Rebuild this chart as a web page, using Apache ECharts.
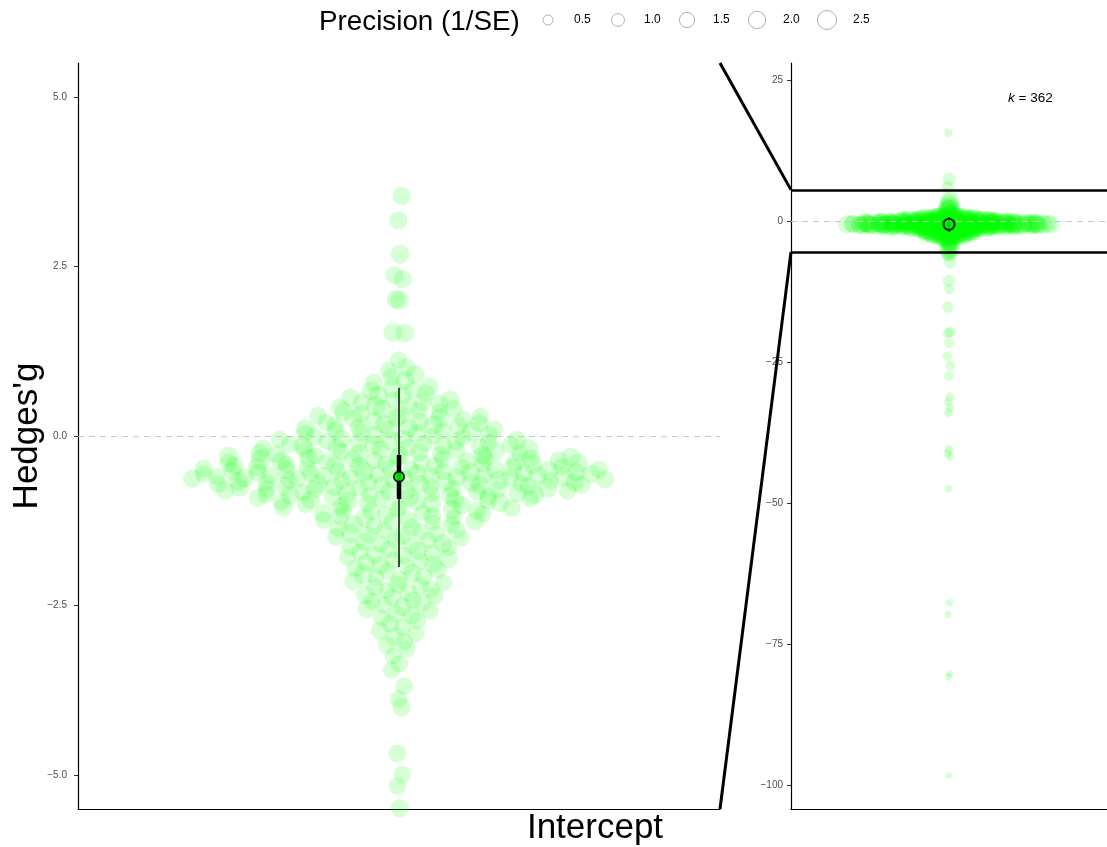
<!DOCTYPE html>
<html><head><meta charset="utf-8">
<script src="https://cdn.jsdelivr.net/npm/echarts@6/dist/echarts.min.js"></script>
<style>html,body{margin:0;padding:0;background:#fff}#c{width:1107px;height:847px}</style>
</head><body><div id="c"></div>
<script>
// ---------------- DATA ----------------
const gTop = [3.54, 3.18, 2.68, 2.37, 2.31, 2.02, 2.00, 1.53, 1.52];
const pTop = [2.4, 2.3, 2.5, 2.2, 2.3, 2.4, 2.5, 2.6, 2.4];

const gUpper = [1.12, 1.01, 0.97, 0.91, 0.87, 0.82, 0.79, 0.73, 0.71, 0.68,
  0.67, 0.63, 0.60, 0.59, 0.57, 0.53, 0.53, 0.50, 0.49, 0.48,
  0.45, 0.44, 0.42, 0.40, 0.39, 0.37, 0.36, 0.35, 0.33, 0.31,
  0.30, 0.29, 0.27, 0.26, 0.26, 0.24, 0.22, 0.21, 0.20, 0.19,
  0.18, 0.16, 0.16, 0.15, 0.13, 0.12, 0.11, 0.10, 0.09, 0.08,
  0.08, 0.06, 0.05, 0.04, 0.04, 0.02, 0.01, 0.00];
const pUpper = [2.1, 2.3, 2.0, 2.4, 2.2, 2.5, 2.1, 2.3, 2.7, 2.0,
  2.4, 2.2, 2.6, 2.1, 2.3, 1.9, 2.5, 2.2, 2.4, 2.1,
  2.7, 2.0, 2.3, 2.2, 2.5, 2.1, 2.4, 1.9, 2.3, 2.6,
  2.2, 2.0, 2.4, 2.3, 2.8, 2.1, 2.2, 2.5, 2.0, 2.3,
  2.4, 2.1, 2.6, 2.2, 1.9, 2.3, 2.5, 2.1, 2.4, 2.2,
  2.0, 2.7, 2.3, 2.1, 2.4, 2.2, 2.5, 2.0];

const gCore = [-0.01, -0.02, -0.04, -0.04, -0.05, -0.06, -0.07, -0.08, -0.08, -0.09, -0.10,
  -0.11, -0.12, -0.13, -0.13, -0.14, -0.15, -0.16, -0.17, -0.17, -0.18, -0.19, -0.20,
  -0.21, -0.21, -0.22, -0.23, -0.24, -0.25, -0.25, -0.26, -0.27, -0.27, -0.28, -0.29, -0.29, -0.30,
  -0.31, -0.31, -0.32, -0.33, -0.33, -0.34, -0.34, -0.35, -0.36, -0.36, -0.37, -0.37, -0.38, -0.38, -0.39, -0.40, -0.40,
  -0.41, -0.41, -0.42, -0.42, -0.43, -0.44, -0.44, -0.45, -0.45, -0.46, -0.46, -0.47, -0.47, -0.48, -0.48, -0.49, -0.49, -0.50, -0.50,
  -0.51, -0.51, -0.52, -0.52, -0.53, -0.53, -0.54, -0.54, -0.55, -0.55, -0.56, -0.56, -0.56, -0.57, -0.57, -0.58, -0.58, -0.59, -0.59, -0.60, -0.60,
  -0.61, -0.61, -0.62, -0.62, -0.63, -0.63, -0.63, -0.64, -0.64, -0.65, -0.65, -0.66, -0.66, -0.67, -0.67, -0.68, -0.68, -0.69, -0.69, -0.70, -0.70,
  -0.71, -0.71, -0.72, -0.72, -0.73, -0.74, -0.74, -0.75, -0.75, -0.76, -0.77, -0.77, -0.78, -0.78, -0.79, -0.79, -0.80, -0.80,
  -0.81, -0.82, -0.82, -0.83, -0.84, -0.84, -0.85, -0.86, -0.86, -0.87, -0.88, -0.88, -0.89, -0.90, -0.90,
  -0.91, -0.92, -0.93, -0.93, -0.94, -0.95, -0.96, -0.97, -0.97, -0.98, -0.99, -1.00];
const pCore = [2.3,2.1,2.5,2.2,2.0,2.4,2.7,2.1,2.3,2.2,
  2.4,1.9,2.2,2.6,2.1,2.3,2.5,2.0,2.2,2.4,
  2.1,2.8,2.3,2.0,2.2,2.5,2.1,2.4,1.9,2.3,
  2.6,2.2,2.1,2.4,2.3,2.0,2.7,2.2,2.5,2.1,
  2.3,2.4,2.0,2.2,2.9,2.1,2.3,2.5,2.2,2.0,
  2.4,2.1,2.6,2.3,2.2,1.9,2.5,2.1,2.4,2.3,
  2.2,2.7,2.0,2.4,2.1,2.3,2.6,2.2,2.0,2.5,
  2.1,2.3,2.4,1.9,2.5,2.2,2.1,2.8,2.3,2.2,
  2.5,2.0,2.2,2.4,2.1,2.6,2.3,2.0,2.4,2.1,
  2.3,2.2,2.7,2.1,2.4,2.0,2.2,2.5,2.3,2.1,
  2.0,2.4,2.3,2.2,2.6,2.1,1.9,2.4,2.5,2.2,
  2.4,2.1,2.3,2.7,2.0,2.2,2.4,2.1,2.3,2.6,
  2.2,2.5,2.1,2.3,2.4,2.0,2.8,2.2,2.1,2.3,
  2.1,2.3,2.5,2.0,2.2,2.4,2.1,2.6,2.3,1.9,
  2.7,2.2,2.0,2.4,2.3,2.1,2.5,2.2,2.4,2.0,
  2.3,2.1,2.4,2.2,2.6,2.0,2.3,2.5,2.1,2.4];

const gLower = [-1.01, -1.02, -1.04, -1.05, -1.05, -1.06, -1.07, -1.08, -1.09, -1.10,
  -1.11, -1.13, -1.14, -1.15, -1.16, -1.18, -1.19, -1.20,
  -1.21, -1.23, -1.24, -1.26, -1.27, -1.28, -1.30,
  -1.31, -1.33, -1.35, -1.36, -1.38, -1.39,
  -1.41, -1.43, -1.44, -1.46, -1.47, -1.49,
  -1.51, -1.53, -1.54, -1.56, -1.58, -1.59,
  -1.62, -1.63, -1.65, -1.67, -1.69,
  -1.71, -1.73, -1.75, -1.76, -1.79,
  -1.81, -1.83, -1.84, -1.87, -1.89,
  -1.91, -1.92, -1.95, -1.97, -1.99,
  -2.02, -2.04, -2.07, -2.09, -2.12, -2.14, -2.16, -2.19,
  -2.21, -2.23, -2.26, -2.28, -2.31, -2.34, -2.36, -2.38,
  -2.42, -2.44, -2.46, -2.49, -2.52, -2.55, -2.58,
  -2.62, -2.64, -2.68, -2.72, -2.77, -2.82, -2.87,
  -2.92, -2.96, -3.03, -3.08, -3.14, -3.24, -3.36, -3.45];
const pLower = [2.1,2.3,2.0,2.4,1.9,2.2,2.1,2.5,2.0,2.3,
  2.2,1.9,2.6,2.1,2.0,2.3,2.2,1.8,2.4,2.1,
  2.0,2.3,2.2,1.9,2.5,2.1,2.0,2.4,2.2,2.3,
  1.9,2.1,2.6,2.0,2.2,2.3,2.1,1.9,2.4,2.0,
  2.2,2.5,2.1,2.0,2.3,1.9,2.2,2.4,2.1,2.0,
  2.3,2.1,1.9,2.5,2.2,2.0,2.3,2.1,2.4,1.9,
  2.1,2.2,2.0,2.3,2.6,2.1,1.9,2.2,2.3,2.0,
  2.4,2.0,2.2,2.1,1.9,2.3,2.5,2.0,2.2,2.1,
  2.0,2.3,2.1,2.4,2.2,1.9,2.1,2.3,2.0,2.2,
  2.1,1.9,2.2,2.0,2.3,2.1,2.2,2.0,1.9,2.1,
  2.0];

const gBottom = [-3.69, -3.88, -4.00, -4.68, -4.99, -5.16, -5.49];
const pBottom = [2.2, 2.1, 2.3, 2.2, 2.0, 2.1, 2.2];

const gOut = [15.6, 7.4, 6.0, -6.1, -7.3, -10.6, -12.1, -15.3, -19.7, -19.9, -21.7, -24.0, -25.7, -27.5,
  -31.2, -32.1, -33.2, -34.0, -40.5, -41.2, -41.8, -47.5, -67.7, -69.8, -80.3, -80.8, -98.3];
const pOut = [0.25, 1.0, 0.9, 0.9, 1.0, 0.85, 0.55, 0.7, 0.6, 0.6, 0.45, 0.45, 0.45, 0.4,
  0.35, 0.3, 0.3, 0.35, 0.3, 0.25, 0.25, 0.15, 0.15, 0.1, 0.1, 0.1, 0.02];

// model estimate: mean, 95% CI, 95% PI
const estimate = { mean: -0.60, ciLow: -0.93, ciHigh: -0.28, piLow: -1.93, piHigh: 0.71 };
const kLabel = 362;
const leftTicks = [-5, -2.5, 0, 2.5, 5];
const rightTicks = [-100, -75, -50, -25, 0, 25];
const legendBreaks = [0.5, 1.0, 1.5, 2.0, 2.5];
const zoomLimit = 5.5;

// ---------------- LAYOUT ----------------
const hedgesG = [].concat(gTop, gUpper, gCore, gLower, gBottom, gOut);
const precision = [].concat(pTop, pUpper, pCore, pLower, pBottom, pOut);
const n = hedgesG.length;

// quasirandom offsets (van der Corput by rank, scaled by kernel density), like ggbeeswarm
function vdc(k) { let v = 0, d = 1; while (k > 0) { d *= 2; v += (k % 2) / d; k = Math.floor(k / 2); } return v; }
const sorted = hedgesG.slice().sort((a, b) => a - b);
function quant(p) { const h = (n - 1) * p, lo = Math.floor(h); return sorted[lo] + (h - lo) * ((sorted[lo + 1] ?? sorted[lo]) - sorted[lo]); }
const mean = hedgesG.reduce((a, b) => a + b, 0) / n;
const sd = Math.sqrt(hedgesG.reduce((a, b) => a + (b - mean) * (b - mean), 0) / (n - 1));
const iqr = quant(0.75) - quant(0.25);
const bw = 0.9 * Math.min(sd, iqr / 1.34) * Math.pow(n, -0.2) * 0.5;
function dens(y) { let s = 0; for (const v of hedgesG) { const z = (y - v) / bw; s += Math.exp(-0.5 * z * z); } return s; }
let maxD = 0;
for (let y = -6; y <= 4; y += 0.005) maxD = Math.max(maxD, dens(y));
const order = hedgesG.map((v, i) => i).sort((a, b) => hedgesG[a] - hedgesG[b] || a - b);
const rank = new Array(n);
order.forEach((idx, r) => rank[idx] = r + 1);
const WIDTH = 0.4;
const pts = hedgesG.map((v, i) => [(vdc(rank[i]) - 0.5) * 2 * WIDTH * dens(v) / maxD, v, precision[i]]);

const sizeFn = p => Math.sqrt(34.75 + 130.5 * p);
const FONT = '"Liberation Sans", Arial, Helvetica, sans-serif';
const minus = s => s.replace('-', '\u2212');

function yAxisCfg(grid, min, max, ticks, fmt, margin) {
  return {
    gridIndex: grid, type: 'value', min: min, max: max,
    axisLine: { show: true, onZero: false, lineStyle: { color: '#000', width: 1.2 } },
    axisTick: { show: true, length: 4, customValues: ticks, lineStyle: { color: '#333', width: 1 } },
    axisLabel: { customValues: ticks, formatter: fmt, fontFamily: FONT, fontSize: 10, color: '#4d4d4d', margin: margin },
    splitLine: { show: false }
  };
}
function xAxisCfg(grid) {
  return {
    gridIndex: grid, type: 'value', min: -0.6, max: 0.6,
    axisLine: { show: true, onZero: false, lineStyle: { color: '#000', width: 1.2 } },
    axisTick: { show: false }, axisLabel: { show: false }, splitLine: { show: false }
  };
}
function panelSeries(ax) {
  const extraLines = ax === 1 ? [
    { yAxis: zoomLimit, lineStyle: { type: 'solid', color: '#000', width: 2.6 } },
    { yAxis: -zoomLimit, lineStyle: { type: 'solid', color: '#000', width: 2.6 } }
  ] : [];
  return [
    {
      type: 'scatter', xAxisIndex: ax, yAxisIndex: ax, data: pts, clip: true,
      symbolSize: v => sizeFn(v[2]),
      itemStyle: { color: 'rgba(0,255,0,0.2)', borderWidth: 0 },
      markLine: {
        silent: true, symbol: 'none', label: { show: false },
        lineStyle: { type: [6, 5], color: '#c8c8c8', width: 1 },
        data: [{ yAxis: 0 }].concat(extraLines)
      },
      z: 2
    },
    {
      type: 'line', xAxisIndex: ax, yAxisIndex: ax, symbol: 'none', silent: true,
      data: [[0, estimate.piLow], [0, estimate.piHigh]],
      lineStyle: { color: '#000', width: 1.4 }, z: 5
    },
    {
      type: 'line', xAxisIndex: ax, yAxisIndex: ax, symbol: 'none', silent: true,
      data: [[0, estimate.ciLow], [0, estimate.ciHigh]],
      lineStyle: { color: '#000', width: 4.5 }, z: 6
    },
    {
      type: 'scatter', xAxisIndex: ax, yAxisIndex: ax, data: [[0, estimate.mean]],
      symbolSize: ax === 1 ? 11 : 10, itemStyle: { color: '#00ff00', borderColor: '#000', borderWidth: 2.2 }, z: 7
    }
  ];
}

const chart = echarts.init(document.getElementById('c'), null, { renderer: 'canvas' });
chart.setOption({
  animation: false,
  backgroundColor: '#fff',
  grid: [
    { left: 78, top: 63, width: 642, height: 746 },
    { left: 791, top: 63, width: 322, height: 746 }
  ],
  xAxis: [xAxisCfg(0), xAxisCfg(1)],
  yAxis: [
    yAxisCfg(0, -zoomLimit, zoomLimit, leftTicks, v => minus(v.toFixed(1)), 11),
    yAxisCfg(1, -104.3, 28, rightTicks, v => minus(v.toFixed(0)), 8)
  ],
  series: panelSeries(0).concat(panelSeries(1))
});

// connectors & annotations
const pTL = chart.convertToPixel({ gridIndex: 0 }, [0.6, zoomLimit]);
const pBL = chart.convertToPixel({ gridIndex: 0 }, [0.6, -zoomLimit]);
const pTR = chart.convertToPixel({ gridIndex: 1 }, [-0.6, zoomLimit]);
const pBR = chart.convertToPixel({ gridIndex: 1 }, [-0.6, -zoomLimit]);
const graphic = [
  { type: 'line', shape: { x1: pTL[0], y1: pTL[1], x2: pTR[0], y2: pTR[1] }, style: { stroke: '#000', lineWidth: 3 }, z: 10 },
  { type: 'line', shape: { x1: pBL[0], y1: pBL[1], x2: pBR[0], y2: pBR[1] }, style: { stroke: '#000', lineWidth: 3 }, z: 10 },
  { type: 'text', x: 27, y: 436, rotation: Math.PI / 2,
    style: { text: "Hedges'g", font: '35px ' + FONT, fill: '#000', textAlign: 'center', textVerticalAlign: 'middle' } },
  { type: 'text', x: 595, y: 828,
    style: { text: 'Intercept', font: '35px ' + FONT, fill: '#000', textAlign: 'center', textVerticalAlign: 'middle' } },
  { type: 'text', x: 1008, y: 98,
    style: { text: '{i|k} = ' + kLabel, rich: { i: { fontStyle: 'italic', fontSize: 13.5, fontFamily: FONT, fill: '#000' } },
      font: '13.5px ' + FONT, fill: '#000', textAlign: 'left', textVerticalAlign: 'middle' } },
  { type: 'text', x: 319, y: 22,
    style: { text: 'Precision (1/SE)', font: '27.8px ' + FONT, fill: '#000', textAlign: 'left', textVerticalAlign: 'middle' } }
];
const legX = [548, 618, 687, 757, 827];
legendBreaks.forEach((b, i) => {
  graphic.push({ type: 'circle', shape: { cx: legX[i], cy: 20, r: sizeFn(b) / 2 },
    style: { fill: '#fff', stroke: '#a8a8a8', lineWidth: 0.9 } });
  graphic.push({ type: 'text', x: legX[i] + 26, y: 20,
    style: { text: b.toFixed(1), font: '12px ' + FONT, fill: '#000', textAlign: 'left', textVerticalAlign: 'middle' } });
});
chart.setOption({ graphic: graphic });
</script></body></html>
